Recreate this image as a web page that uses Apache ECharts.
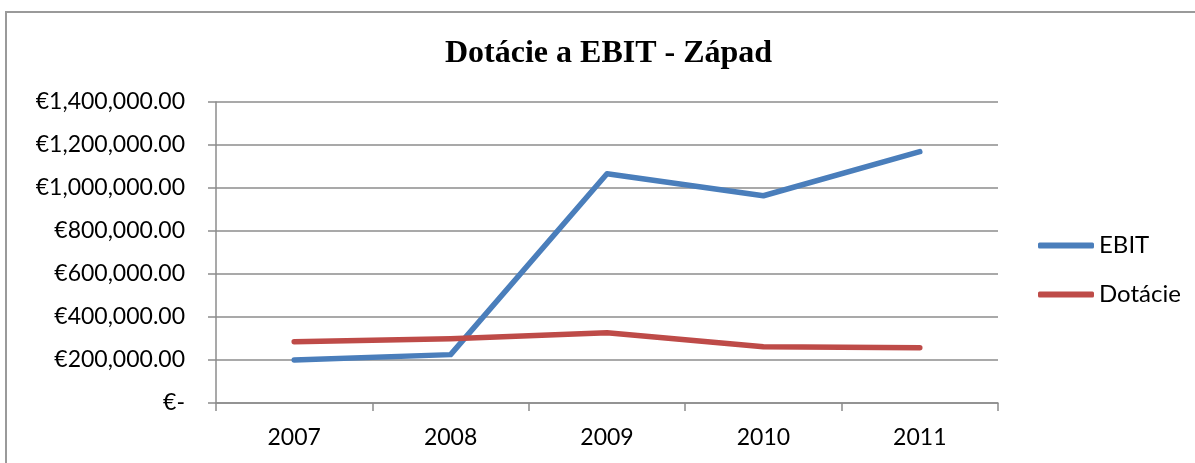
<!DOCTYPE html>
<html>
<head>
  <meta charset="UTF-8">
  <title>Dotácie a EBIT - Západ</title>
  <script src="https://cdn.jsdelivr.net/npm/echarts@6/dist/echarts.min.js"></script>
  <style>
    html, body { margin: 0; padding: 0; background: #fff; }
    #chart { width: 1195px; height: 463px; }
  </style>
</head>
<body>
<div id="chart"></div>
<script>
  // ============ data ============
  const years = ['2007', '2008', '2009', '2010', '2011'];
  const ebit = [200000, 225000, 1066000, 964000, 1169000];
  const dotacie = [285000, 299000, 327000, 262000, 257000];

  const gridColor = '#8c8c8c';
  const labelFont = 'Lato';

  // €1,400,000.00 style, zero shown as "€-"
  function euro(v) {
    if (v === 0) return '€-';
    return '€' + v.toLocaleString('en-US', {minimumFractionDigits: 2, maximumFractionDigits: 2});
  }

  const chart = echarts.init(document.getElementById('chart'), null, {renderer: 'canvas'});

  chart.setOption({
    animation: false,
    backgroundColor: '#fff',
    title: {
      text: 'Dotácie a EBIT - Západ',
      left: 445,
      top: 38,
      padding: 0,
      textStyle: {
        fontFamily: 'Liberation Serif',
        fontWeight: 'bold',
        fontSize: 32,
        color: '#000'
      }
    },
    // outer chart frame (only top and left edges are visible)
    graphic: [{
      type: 'rect',
      shape: {x: 6, y: 12, width: 1240, height: 520},
      style: {fill: 'none', stroke: '#9a9a9a', lineWidth: 2},
      silent: true
    }],
    legend: {
      orient: 'vertical',
      left: 1038,
      top: 233,
      itemWidth: 56,
      itemHeight: 6,
      itemGap: 24,
      icon: 'roundRect',
      padding: 0,
      textStyle: {fontFamily: labelFont, fontSize: 24, color: '#000', lineHeight: 25},
      data: ['EBIT', 'Dotácie']
    },
    grid: {left: 216, right: 197, top: 102, bottom: 60},
    xAxis: {
      type: 'category',
      data: years,
      boundaryGap: true,
      axisLine: {lineStyle: {color: gridColor, width: 1.5}},
      axisTick: {show: true, length: 8, lineStyle: {color: gridColor, width: 1.5}},
      axisLabel: {fontFamily: labelFont, fontSize: 23, color: '#000', margin: 23}
    },
    yAxis: {
      type: 'value',
      min: 0,
      max: 1400000,
      interval: 200000,
      axisLine: {show: true, lineStyle: {color: gridColor, width: 1.5}},
      axisTick: {show: true, length: 8, lineStyle: {color: gridColor, width: 1.5}},
      splitLine: {lineStyle: {color: gridColor, width: 1.5}},
      axisLabel: {fontFamily: labelFont, fontSize: 23, color: '#000', margin: 31, formatter: euro}
    },
    series: [
      {
        name: 'EBIT',
        type: 'line',
        data: ebit,
        symbol: 'none',
        color: '#4a7ebb',
        lineStyle: {width: 5.5, cap: 'round', join: 'round'}
      },
      {
        name: 'Dotácie',
        type: 'line',
        data: dotacie,
        symbol: 'none',
        color: '#be4b48',
        lineStyle: {width: 5.5, cap: 'round', join: 'round'}
      }
    ]
  });
</script>
</body>
</html>
